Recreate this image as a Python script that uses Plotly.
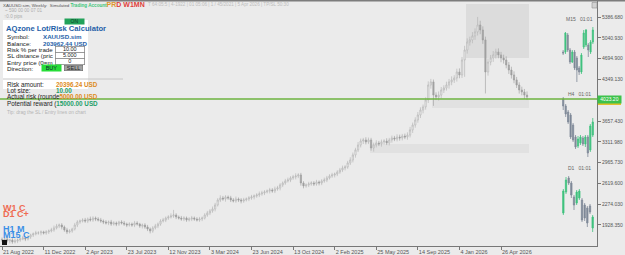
import plotly.graph_objects as go
import pandas as pd

# ---------------- data ----------------
first_open = 1690
closes = [
    1679, 1695, 1662, 1679, 1646, 1662, 1679, 1695, 1712, 1695, 1728,
    1763, 1780, 1796, 1796, 1813, 1796, 1813, 1829, 1846,
    1879, 1911, 1928, 1895, 1846, 1813, 1829, 1862,
    1928, 1978, 1995, 2011, 1995, 2028, 2011, 2044, 2028, 2011, 1995,
    1978, 1961, 1978, 1944, 1961, 1944, 1978, 1961, 1944, 1928, 1944, 1928, 1961, 1944, 1911, 1928, 1895,
    1862, 1829, 1879, 1912, 1945, 1995, 2011, 2044, 2061, 2077, 2094,
    2061, 2044, 2028, 2044, 2011, 2028, 2044, 2028, 2011, 2028, 2044,
    2094, 2128, 2162, 2195, 2261, 2344, 2377, 2361, 2394, 2378, 2345, 2328, 2361, 2345,
    2328, 2345, 2361, 2378, 2394, 2411, 2427, 2445, 2461, 2478, 2494, 2511, 2494, 2527, 2544,
    2594, 2627, 2660, 2676, 2710, 2727, 2743, 2760, 2627, 2578, 2594, 2611, 2627, 2611, 2644, 2627, 2660, 2676,
    2710, 2743, 2760, 2776, 2809, 2843, 2876, 2893, 2960, 3009, 3093, 3176, 3258,
    3325, 3342, 3309, 3342, 3209, 3258, 3292, 3276, 3309, 3325, 3292, 3342, 3375, 3358, 3391, 3375, 3408, 3391, 3424,
    3509, 3591, 3674, 3757, 3840, 3891, 4007, 4256, 4307, 4089, 4056, 4089, 4173, 4207, 4256, 4307, 4340, 4373, 4472, 4423,
    4672, 4838, 4971, 5005, 5071, 5138, 5254, 5171, 5005, 4472, 4638, 4705, 4756, 4805, 4756, 4705, 4672, 4589, 4505,
    4423, 4340, 4256, 4173, 4140, 4089, 4056,
]
upper_wick = [
    30, 25, 35, 20, 30, 40, 25, 30, 35, 25, 30, 20, 25, 35, 30, 25, 20, 30, 25, 35,
    40, 35, 25, 30, 25, 35, 30, 20, 35, 30, 25, 30, 35, 25, 40, 30, 25, 30, 35, 25,
    30, 25, 35, 30, 25, 20, 30, 35, 25, 30, 25, 35, 30, 20, 25, 30, 35, 25, 30, 35,
    25, 30, 35, 25, 30, 45, 85, 30, 25, 35, 30, 25, 30, 35, 25, 30, 35, 25, 30, 35,
    30, 40, 35, 30, 45, 35, 30, 25, 35, 30, 40, 25, 30, 35, 25, 30, 35, 25, 30, 40,
    35, 30, 25, 35, 30, 40, 35, 30, 25, 35, 40, 30, 35, 45, 30, 35, 30, 25, 35, 30,
    30, 35, 25, 30, 40, 35, 30, 35, 25, 30, 35, 40, 30, 35, 45, 40, 35, 50, 40, 35,
    45, 40, 35, 40, 45, 35, 40, 30, 45, 35, 40, 35, 45, 40, 35, 40, 45, 50, 40, 45,
    50, 45, 40, 45, 60, 50, 40, 45, 60, 50, 45, 55, 50, 60, 45, 55, 60, 50, 70, 60,
    55, 65, 60, 133, 70, 60, 55, 60, 50, 65, 55, 60, 50, 55, 60, 50, 55, 60, 50, 45,
    55, 50, 60,
]
lower_wick = [
    35, 30, 25, 40, 30, 25, 35, 30, 20, 35, 25, 30, 35, 25, 30, 40, 25, 30, 35, 25,
    30, 25, 35, 40, 30, 35, 25, 30, 25, 35, 30, 25, 30, 35, 25, 30, 35, 25, 30, 35,
    25, 35, 30, 25, 35, 30, 25, 30, 35, 25, 30, 35, 25, 30, 40, 30, 35, 40, 30, 25,
    35, 30, 25, 35, 30, 25, 30, 35, 25, 30, 35, 30, 25, 35, 30, 25, 30, 35, 25, 30,
    35, 30, 40, 25, 35, 30, 45, 30, 35, 25, 30, 35, 40, 30, 25, 35, 30, 40, 30, 35,
    30, 35, 25, 40, 30, 35, 30, 40, 35, 30, 25, 35, 30, 40, 35, 45, 40, 30, 35, 30,
    35, 30, 40, 35, 30, 35, 25, 30, 40, 35, 30, 35, 40, 30, 35, 40, 45, 35, 40, 50,
    40, 35, 45, 60, 40, 35, 45, 40, 35, 40, 45, 35, 40, 45, 40, 35, 45, 40, 50, 45,
    45, 50, 55, 45, 50, 60, 180, 50, 60, 55, 50, 45, 60, 55, 50, 60, 55, 50, 280, 60,
    60, 55, 65, 60, 70, 65, 356, 60, 55, 65, 60, 55, 70, 60, 55, 65, 60, 55, 50, 60,
    55, 65, 50,
]
opens = [first_open] + closes[:-1]
highs = [max(o, c) + w for o, c, w in zip(opens, closes, upper_wick)]
lows = [min(o, c) - w for o, c, w in zip(opens, closes, lower_wick)]
dates = pd.date_range("2022-08-21", periods=len(closes), freq="7D")

x_tick_dates = ["2022-08-21", "2022-12-11", "2023-04-02", "2023-07-23", "2023-11-12",
                "2024-03-03", "2024-06-23", "2024-10-13", "2025-02-02", "2025-05-25",
                "2025-09-14", "2026-01-04", "2026-04-26"]
x_tick_text = ["21 Aug 2022", "11 Dec 2022", "2 Apr 2023", "23 Jul 2023", "12 Nov 2023",
               "3 Mar 2024", "23 Jun 2024", "13 Oct 2024", "2 Feb 2025", "25 May 2025",
               "14 Sep 2025", "4 Jan 2026", "26 Apr 2026"]
y_tick_vals = [5386.68, 5040.93, 4694.90, 4349.13, 3657.43, 3311.98, 2965.73, 2619.60, 2274.03, 1928.35]
y_tick_text = ["5386.680", "5040.930", "4694.900", "4349.130", "3657.430", "3311.980",
               "2965.730", "2619.600", "2274.030", "1928.350"]
entry_level = 4023.20

# inset mini charts
m15_open = [4058, 4058, 4075, 4060, 4048, 4058, 4052, 4042, 4038, 4063, 4065, 4065, 4058, 4068]
m15_close = [4057, 4077, 4060, 4048, 4058, 4042, 4040, 4038, 4055, 4077, 4080, 4060, 4068, 4080]
m15_high = [4060, 4078, 4077, 4062, 4060, 4060, 4054, 4044, 4057, 4080, 4081, 4067, 4070, 4083]
m15_low = [4055, 4056, 4058, 4046, 4047, 4040, 4028, 4035, 4036, 4061, 4063, 4053, 4056, 4066]

h4_open = [4101, 4094, 4088, 4085, 4075, 4063, 4054, 4057, 4062, 4056, 4063, 4050, 4065]
h4_close = [4094, 4086, 4078, 4063, 4060, 4053, 4061, 4063, 4056, 4063, 4047, 4074, 4078]
h4_high = [4103, 4096, 4090, 4087, 4077, 4065, 4064, 4065, 4064, 4065, 4065, 4076, 4082]
h4_low = [4090, 4083, 4076, 4061, 4058, 4051, 4052, 4055, 4054, 4053, 4043, 4048, 4063]

d1_open = [4087, 4108, 4122, 4117, 4103, 4097, 4102, 4100, 4095, 4092, 4094, 4072]
d1_close = [4109, 4120, 4117, 4105, 4095, 4108, 4109, 4080, 4082, 4077, 4088, 4083]
d1_high = [4111, 4123, 4124, 4119, 4105, 4110, 4111, 4102, 4097, 4094, 4096, 4085]
d1_low = [4085, 4106, 4115, 4102, 4090, 4095, 4100, 4078, 4079, 4073, 4086, 4068]

# ---------------- layout helpers (pixel -> paper) ----------------
W, H = 625, 255
PW, PH = 597, 246          # plot area size (margins l=0,t=0,r=28,b=9)


def px(x):
    return x / PW


def py(y):
    return 1 - y / PH


BG = "#ebebeb"
FONT = "Liberation Sans, Arial, sans-serif"

fig = go.Figure()

fig.add_trace(go.Candlestick(
    x=dates, open=opens, high=highs, low=lows, close=closes,
    increasing=dict(line=dict(color="#b0b0b0", width=0.6), fillcolor="#f4f4f4"),
    decreasing=dict(line=dict(color="#9a9a9a", width=0.6), fillcolor="#a6a6a6"),
    whiskerwidth=0, showlegend=False, hoverinfo="skip",
))

GREEN_C = "#3fc27e"
GREY_C = "#7f8998"
for n, (o, h, l, c) in enumerate([(m15_open, m15_high, m15_low, m15_close),
                                 (h4_open, h4_high, h4_low, h4_close),
                                 (d1_open, d1_high, d1_low, d1_close)], start=2):
    fig.add_trace(go.Candlestick(
        x=list(range(len(o))), open=o, high=h, low=l, close=c,
        increasing=dict(line=dict(color=GREEN_C, width=0.8), fillcolor=GREEN_C),
        decreasing=dict(line=dict(color=GREY_C, width=0.8), fillcolor=GREY_C),
        whiskerwidth=0, showlegend=False, hoverinfo="skip",
        xaxis=f"x{n}", yaxis=f"y{n}",
    ))

layout = dict(
    width=W, height=H,
    margin=dict(l=0, r=W - PW, t=0, b=H - PH),
    paper_bgcolor=BG, plot_bgcolor=BG,
    font=dict(family=FONT, color="#333"),
    showlegend=False,
    xaxis=dict(
        type="date", range=["2022-08-15 14:40", "2027-01-09 12:00"],
        tickvals=x_tick_dates, ticktext=x_tick_text,
        ticklabelposition="outside right",
        tickfont=dict(size=5.5, color="#555"),
        ticks="outside", ticklen=3, tickcolor="#777",
        showline=True, linecolor="#777", linewidth=1,
        showgrid=False, zeroline=False, rangeslider=dict(visible=False),
        fixedrange=True,
    ),
    yaxis=dict(
        side="right", range=[1579.1, 5669.3],
        tickvals=y_tick_vals, ticktext=y_tick_text,
        tickfont=dict(size=5, color="#555"),
        ticks="outside", ticklen=3, tickcolor="#777",
        showline=True, linecolor="#777", linewidth=1,
        showgrid=False, zeroline=False, fixedrange=True,
    ),
)
inset_specs = [
    (2, 14, (85, 25), (4025, 4085)),
    (3, 13, (160, 95), (4040, 4105)),
    (4, 12, (236, 172), (4064, 4128)),
]
for n, cnt, (yb, yt), yr in inset_specs:
    layout[f"xaxis{n}"] = dict(domain=[px(562), px(594)], range=[-0.5, cnt - 0.5],
                               anchor=f"y{n}", visible=False, fixedrange=True,
                               rangeslider=dict(visible=False))
    layout[f"yaxis{n}"] = dict(domain=[py(yb), py(yt)], range=list(yr),
                               anchor=f"x{n}", visible=False, fixedrange=True)
fig.update_layout(**layout)


def rect(x0, y0, x1, y1, fill, line=None, lw=0, layer="below"):
    fig.add_shape(type="rect", xref="paper", yref="paper",
                  x0=px(x0), x1=px(x1), y0=py(y1), y1=py(y0),
                  fillcolor=fill, line=dict(color=line or fill, width=lw), layer=layer)


# zones
rect(466, 4, 529, 58, "#dcdcdc")
rect(432, 100, 529, 108, "#e1e1e1")
rect(370, 144, 529, 153, "#e1e1e1")

# top window bar
rect(0, 0, W, 1.5, "#7c7c7c", layer="above")
# small icon top-right
rect(592, 2.5, 597, 8, "#d2d2d2", line="#909090", lw=0.6, layer="above")

# entry line
fig.add_shape(type="line", xref="paper", yref="y", x0=0, x1=1,
              y0=entry_level, y1=entry_level, line=dict(color="#6db33f", width=1.4),
              layer="above")
rect(598, 103, 621, 105, "#e2c12c", layer="above")

# panel
rect(3, 20, 88, 89, "#ffffff", layer="above")
fig.add_shape(type="line", xref="paper", yref="paper", x0=px(3), x1=px(123),
              y0=py(79), y1=py(79), line=dict(color="#c6c6c6", width=1), layer="above")


def ann(text, x, y, size, color, bold=False, xanchor="left", **kw):
    if bold:
        text = f"<b>{text}</b>"
    fig.add_annotation(text=text, x=px(x), y=py(y), xref="paper", yref="paper",
                       xanchor=xanchor, yanchor="middle", showarrow=False,
                       font=dict(size=size, color=color, family=kw.pop("family", FONT)),
                       borderpad=0, **kw)


def span(text, color, size=None, bold=False):
    style = f"color:{color}"
    if size:
        style += f";font-size:{size}px"
    if bold:
        text = f"<b>{text}</b>"
    return f"<span style='{style}'>{text}</span>"


# header
ann(span("XAUUSD.sim, Weekly:  Simulated ", "#555", 4.4)
    + span("Trading Account", "#3cc57a", 4.6, True)
    + span("PR", "#e0962a", 7, True) + span("D W1MN", "#e0403a", 7, True),
    2, 5, 5, "#555")
ann("T 64:05:5 | 4-1922 | 01 05:06 | 1 / 45/2021 | 5 Apr 2026 | TP/SL 50:30", 147, 5, 4.6, "#bdbdbd")
ann("~ 590 00 00 07 01", 4, 10.5, 4.6, "#ababab")
ann("\u21910.0 pips", 3, 16, 4.6, "#ababab")

# panel texts
ann("AQzone Lot/Risk Calculator", 5, 28.4, 7.6, "#1f5fa8", bold=True)
ann("ON", 74.5, 21.2, 5, "#0d3a1f", xanchor="center", bgcolor="#22a25a", width=19, height=4.6)
ann("Symbol:", 6, 36.9, 6.2, "#222")
ann("XAUUSD.sim", 42, 36.9, 6.2, "#1f5fa8", bold=True)
ann("Balance:", 6, 43.2, 6.2, "#222")
ann("203962.44 USD", 42, 43.2, 6.2, "#1f5fa8", bold=True)
ann("Risk % per trade", 6, 49.5, 6.2, "#222")
ann("SL distance (pric", 6, 55.8, 6.2, "#222")
ann("Entry price (0=m", 6, 62.1, 6.2, "#222")
ann("Direction:", 6, 68.8, 6.2, "#222")
for val, yy in (("10.00", 49.4), ("5.000", 55.6), ("0", 61.8)):
    ann(val, 69.5, yy, 5.5, "#222", xanchor="center", bgcolor="#ffffff",
        bordercolor="#8a8a8a", borderwidth=0.8, width=28, height=5)
ann("BUY", 51.5, 68.3, 5.5, "#123", xanchor="center", bgcolor="#27dd38", width=19, height=5.5)
ann("SELL", 73.5, 68.3, 5.5, "#222", xanchor="center", bgcolor="#a2a2a2",
    bordercolor="#666", borderwidth=0.6, width=18, height=5)

ann("Risk amount:", 6, 85, 6.3, "#222")
ann("20396.24 USD", 55, 85, 6.3, "#de8b1c", bold=True)
ann("Lot size:", 6, 91, 6.3, "#222")
ann("10.00", 55, 91, 6.3, "#1c9e68", bold=True)
ann("Actual risk (rounde" + span("5000.00 USD", "#de8b1c", None, True), 6, 97.3, 6.3, "#222")
ann("Potential reward (" + span("15000.00 USD", "#1c9e68", None, True), 6, 103.6, 6.3, "#222")
ann("Tip: drag the SL / Entry lines on chart", 6, 112, 4.8, "#b4b4b4")

# timeframe badges bottom-left
ann("W1 C", 1.5, 207.5, 9, "#ef6a52", bold=True)
ann("D1 C+", 1.5, 213.5, 9, "#ef6a52", bold=True)
ann("H1 M", 1.5, 228.5, 9, "#3b8fe6", bold=True)
ann("M15 C", 1.5, 234.5, 9, "#3b8fe6", bold=True)
rect(2, 240, 7, 245, "#111111", layer="above")

# inset titles
ann("M15\u00a0\u00a0 01:01", 579, 19, 5, "#666", xanchor="center")
ann("H4\u00a0\u00a0 01:01", 579, 94, 5, "#666", xanchor="center")
ann("D1\u00a0\u00a0 01:01", 579, 168, 5, "#666", xanchor="center")

# price label of entry line on the axis
fig.add_annotation(text="4023.20", x=px(609.5), y=entry_level, xref="paper", yref="y",
                   xanchor="center", yanchor="middle", showarrow=False,
                   font=dict(size=5, color="#ffffff", family=FONT),
                   bgcolor="#3dc24b", width=23, height=6.5, borderpad=0)

fig.write_html("out.html")
